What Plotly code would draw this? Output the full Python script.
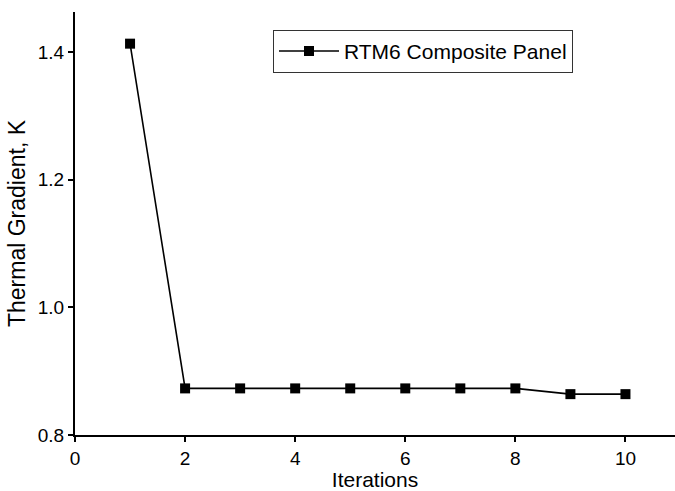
import plotly.graph_objects as go

iterations = [1, 2, 3, 4, 5, 6, 7, 8, 9, 10]
thermal_gradient = [1.413, 0.873, 0.873, 0.873, 0.873, 0.873, 0.873, 0.873, 0.864, 0.864]
x_ticks = [0, 2, 4, 6, 8, 10]
y_ticks = [0.8, 1.0, 1.2, 1.4]

fig = go.Figure()
fig.add_trace(go.Scatter(
    x=iterations, y=thermal_gradient, mode="lines+markers",
    name="RTM6 Composite Panel",
    line=dict(color="black", width=1.6),
    marker=dict(symbol="square", size=10, color="black"),
))

font = "Liberation Sans, Arial, sans-serif"
fig.update_layout(
    width=675, height=491,
    margin=dict(l=75, r=0, t=12, b=56),
    paper_bgcolor="white", plot_bgcolor="white",
    font=dict(family=font, color="black", size=19),
    showlegend=True,
    legend=dict(x=0.33, y=0.907, xanchor="left", yanchor="middle",
                bordercolor="#333333", borderwidth=1, bgcolor="white",
                font=dict(size=21), itemwidth=60),
    xaxis=dict(range=[0, 10.9], tickvals=x_ticks, showgrid=False, zeroline=False,
               showline=True, linecolor="black", linewidth=2,
               ticks="outside", ticklen=5, tickwidth=2, tickcolor="black",
               title=dict(text="Iterations", font=dict(size=21), standoff=8)),
    yaxis=dict(range=[0.8, 1.4626], tickvals=y_ticks, tickformat=".1f",
               showgrid=False, zeroline=False,
               showline=True, linecolor="black", linewidth=2,
               ticks="outside", ticklen=5, tickwidth=2, tickcolor="black",
               title=dict(text="Thermal Gradient, K", font=dict(size=23), standoff=6)),
)

fig.write_html("out.html")
